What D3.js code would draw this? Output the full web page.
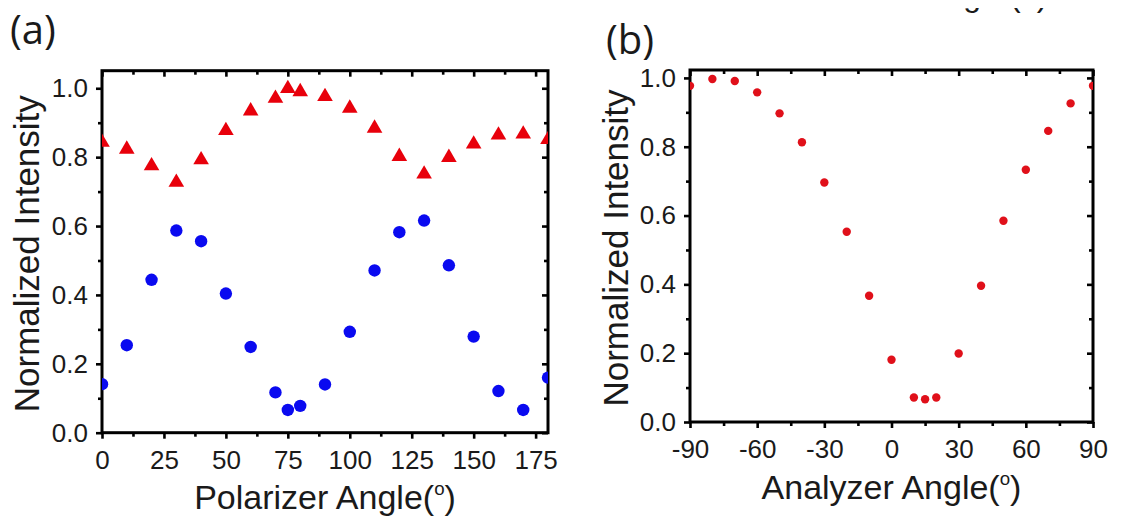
<!DOCTYPE html>
<html><head><meta charset="utf-8">
<script src="https://cdn.jsdelivr.net/npm/d3@7/dist/d3.min.js"></script>
<style>
html,body{margin:0;padding:0;background:#fff;}
svg{display:block;}
text{font-family:Arial,"Liberation Sans",sans-serif;fill:#1a1a1a;}
</style></head>
<body>
<svg id="c" width="1147" height="519"></svg>
<script>
// ---------- data ----------
const polarizerAngles = [0,10,20,30,40,50,60,70,75,80,90,100,110,120,130,140,150,160,170,180];
const triangleValues  = [0.847,0.827,0.779,0.731,0.796,0.881,0.938,0.975,1.003,0.994,0.980,0.946,0.888,0.806,0.755,0.803,0.842,0.868,0.871,0.855];
const circleValues    = [0.141,0.254,0.444,0.587,0.556,0.404,0.249,0.117,0.066,0.078,0.140,0.293,0.471,0.582,0.616,0.486,0.279,0.121,0.066,0.160];
const analyzerAngles  = [-90,-80,-70,-60,-50,-40,-30,-20,-10,0,10,15,20,30,40,50,60,70,80,90];
const analyzerValues  = [0.977,0.997,0.991,0.958,0.897,0.813,0.696,0.553,0.367,0.181,0.071,0.066,0.071,0.199,0.396,0.585,0.733,0.846,0.926,0.977];
const xTicksA = [0,25,50,75,100,125,150,175];
const xMinorA = [12.5,37.5,62.5,87.5,112.5,137.5,162.5];
const xTicksB = [-90,-60,-30,0,30,60,90];
const xMinorB = [-75,-45,-15,15,45,75];
const yTicks = [0,0.2,0.4,0.6,0.8,1.0];
const yMinor = [0.1,0.3,0.5,0.7,0.9];

const svg = d3.select("#c");
const TICK = 6, MINOR = 4;
const FONT = 'Arial,"Liberation Sans",sans-serif';

function panel(o){
  const g = svg.append("g");
  const x = d3.scaleLinear().domain(o.xd).range([o.l,o.r]);
  const y = d3.scaleLinear().domain(o.yd).range([o.b,o.t]);
  const id = "clip"+o.name;
  svg.append("clipPath").attr("id",id).append("rect")
     .attr("x",o.l).attr("y",o.t).attr("width",o.r-o.l).attr("height",o.b-o.t);

  const fmtY = d3.format(".1f");
  const fmtX = d => String(d);
  g.append("g").attr("transform",`translate(0,${o.b})`)
    .call(d3.axisBottom(x).tickValues(o.xt).tickSize(TICK).tickSizeOuter(0).tickPadding(12).tickFormat(fmtX));
  g.append("g").attr("transform",`translate(0,${o.b})`)
    .call(d3.axisBottom(x).tickValues(o.xm).tickSize(MINOR).tickSizeOuter(0).tickFormat(""));
  g.append("g").attr("transform",`translate(${o.l},0)`)
    .call(d3.axisLeft(y).tickValues(yTicks).tickSize(TICK).tickSizeOuter(0).tickPadding(8).tickFormat(fmtY));
  g.append("g").attr("transform",`translate(${o.l},0)`)
    .call(d3.axisLeft(y).tickValues(yMinor).tickSize(MINOR).tickSizeOuter(0).tickFormat(""));
  g.append("g").attr("transform",`translate(0,${o.t})`)
    .call(d3.axisTop(x).tickValues(o.xt).tickSize(-TICK).tickSizeOuter(0).tickFormat(""));
  g.append("g").attr("transform",`translate(0,${o.t})`)
    .call(d3.axisTop(x).tickValues(o.xm).tickSize(-MINOR).tickSizeOuter(0).tickFormat(""));
  g.append("g").attr("transform",`translate(${o.r},0)`)
    .call(d3.axisRight(y).tickValues(yTicks).tickSize(-TICK).tickSizeOuter(0).tickFormat(""));
  g.append("g").attr("transform",`translate(${o.r},0)`)
    .call(d3.axisRight(y).tickValues(yMinor).tickSize(-MINOR).tickSizeOuter(0).tickFormat(""));
  g.selectAll(".domain").remove();
  g.selectAll(".tick line").attr("stroke","#000").attr("stroke-width",2.6);
  g.selectAll(".tick text").attr("font-size",26).attr("fill","#1a1a1a").style("font-family",FONT);

  g.append("rect").attr("x",o.l).attr("y",o.t).attr("width",o.r-o.l).attr("height",o.b-o.t)
    .attr("fill","none").attr("stroke","#000").attr("stroke-width",3);

  const xt = g.append("text").attr("x",(o.l+o.r)/2).attr("y",o.xtY)
    .attr("text-anchor","middle").attr("font-size",o.tfs);
  xt.append("tspan").text(o.xlabel+"(");
  xt.append("tspan").attr("font-size",o.tfs*0.55).attr("dy",-o.tfs*0.42).text("o");
  xt.append("tspan").attr("dy",o.tfs*0.42).text(")");
  g.append("text").attr("transform",`translate(${o.ytX},${(o.t+o.b)/2+2}) rotate(-90)`)
    .attr("text-anchor","middle").attr("font-size",35).text("Normalized Intensity");
  g.append("text").attr("x",o.lblX).attr("y",o.lblY).attr("font-size",40)
    .style("font-family",'"Open Sans",sans-serif').text(o.label);
  return {g,x,y,id};
}

// ---------- panel (a) ----------
const A = panel({name:"a", xd:[0,180], yd:[0,1.051], l:102, r:548, t:70.7, b:432.7,
  xt:xTicksA, xm:xMinorA, xlabel:"Polarizer Angle", tfs:34, xtY:509, ytX:39,
  label:"(a)", lblX:10, lblY:44});
const pa = A.g.append("g").attr("clip-path",`url(#${A.id})`);
const tri = "M0,-7.5 L7.8,5.8 L-7.8,5.8 Z";
pa.selectAll("path.tri").data(polarizerAngles).join("path").attr("class","tri")
  .attr("d",tri).attr("fill","#e8000b")
  .attr("transform",(d,i)=>`translate(${A.x(d)},${A.y(triangleValues[i])})`);
pa.selectAll("circle").data(polarizerAngles).join("circle")
  .attr("cx",d=>A.x(d)).attr("cy",(d,i)=>A.y(circleValues[i])).attr("r",6.2)
  .attr("fill","#0a0af0");

// ---------- panel (b) ----------
const B = panel({name:"b", xd:[-90,90], yd:[0,1.023], l:690, r:1093, t:70, b:422,
  xt:xTicksB, xm:xMinorB, xlabel:"Analyzer Angle", tfs:34, xtY:499, ytX:628,
  label:"(b)", lblX:606, lblY:54});
const pb = B.g.append("g").attr("clip-path",`url(#${B.id})`);
pb.selectAll("circle").data(analyzerAngles).join("circle")
  .attr("cx",d=>B.x(d)).attr("cy",(d,i)=>B.y(analyzerValues[i])).attr("r",4.2)
  .attr("fill","#e0101a");

// cropped caption fragment at the top right (only its descenders are visible)
svg.append("clipPath").attr("id","capclip").append("rect").attr("x",900).attr("y",8).attr("width",200).attr("height",12);
const cap = svg.append("g").attr("clip-path","url(#capclip)");
cap.append("text").attr("x",981).attr("y",6).attr("text-anchor","end").attr("font-size",32).attr("fill","#333").text("ing");
cap.append("text").attr("x",1010).attr("y",6).attr("font-size",32).attr("fill","#333").text("(c)");
</script>
</body></html>
